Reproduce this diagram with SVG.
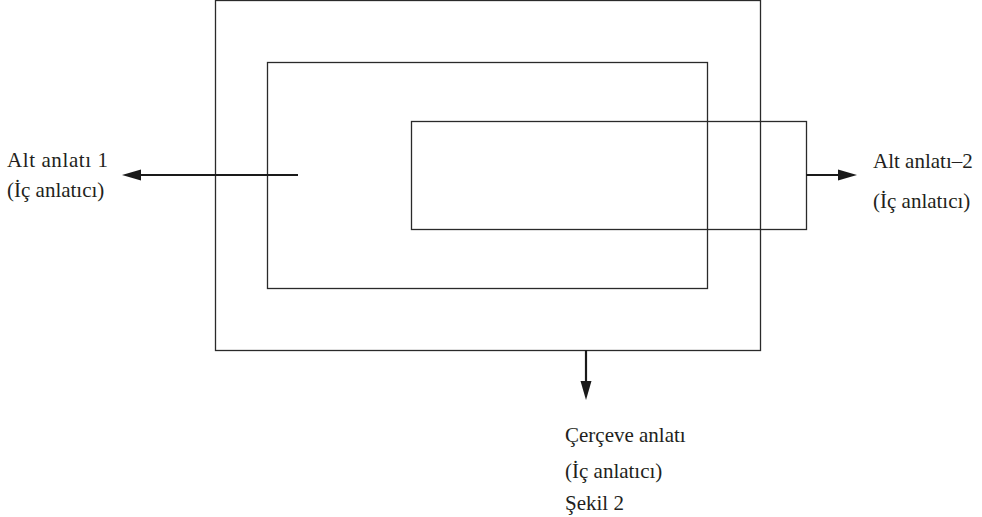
<svg xmlns="http://www.w3.org/2000/svg" width="982" height="517" viewBox="0 0 982 517">
<style>
.box{fill:none;stroke:#2a2a2a;stroke-width:1.3}
.arr{stroke:#1a1a1a;stroke-width:2.2;fill:none}
.head{fill:#1a1a1a}
text{font-family:"Liberation Serif","Times New Roman",serif;font-size:21px;fill:#231f20}
</style>
<rect width="982" height="517" fill="#fff"/>
<g id="outer"><rect class="box" x="215.5" y="0.5" width="545" height="350"/></g>
<g id="middle"><rect class="box" x="267.5" y="62.5" width="440" height="226"/></g>
<g id="inner"><rect class="box" x="411.5" y="121.5" width="395" height="108"/></g>
<g id="connectors">
<line class="arr" x1="298" y1="175" x2="138" y2="175"/>
<polygon class="head" points="122,175 141,169.5 141,180.5"/>
<line class="arr" x1="806" y1="175" x2="840" y2="175"/>
<polygon class="head" points="857,175 838,169.5 838,180.5"/>
<line class="arr" x1="586" y1="350" x2="586" y2="384"/>
<polygon class="head" points="586,400 580.5,381 591.5,381"/>
</g>
<g id="label-left">
<text x="7" y="167" textLength="101">Alt anlatı 1</text>
<text x="7" y="197">(İç anlatıcı)</text>
</g>
<g id="label-right">
<text x="873" y="168">Alt anlatı–2</text>
<text x="873" y="208">(İç anlatıcı)</text>
</g>
<g id="label-bottom">
<text x="565" y="442">Çerçeve anlatı</text>
<text x="565" y="478">(İç anlatıcı)</text>
<text x="565" y="510">Şekil 2</text>
</g>
</svg>
